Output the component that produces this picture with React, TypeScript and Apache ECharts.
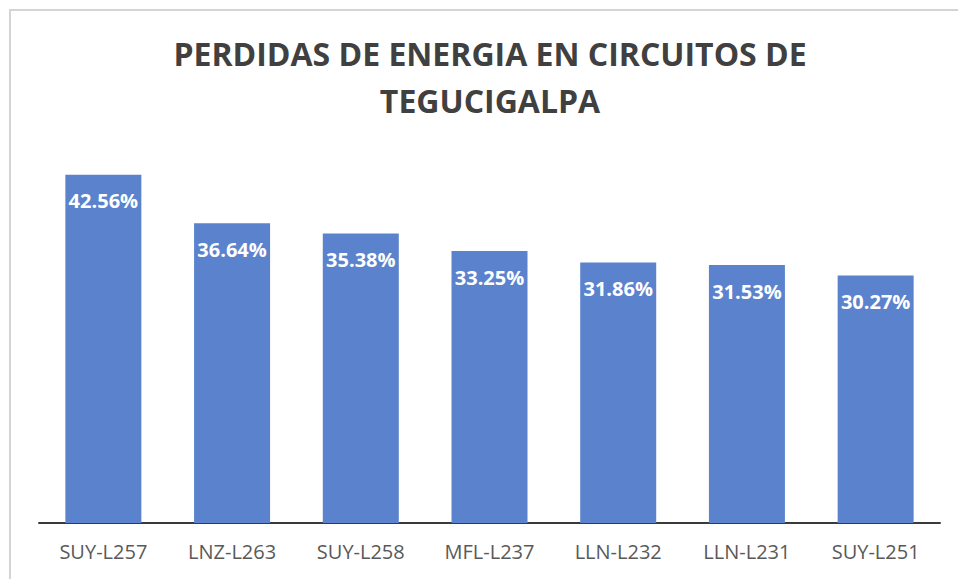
import React, { useEffect, useRef } from "react";
import * as echarts from "echarts";

const categories = ["SUY-L257", "LNZ-L263", "SUY-L258", "MFL-L237", "LLN-L232", "LLN-L231", "SUY-L251"];
const values = [42.56, 36.64, 35.38, 33.25, 31.86, 31.53, 30.27];
const titleLines = ["PERDIDAS DE ENERGIA EN CIRCUITOS DE", "TEGUCIGALPA"];

export default function App() {
  const ref = useRef<HTMLDivElement>(null);
  useEffect(() => {
    if (!ref.current) return;
    const chart = echarts.init(ref.current, null, { renderer: "svg" });
    chart.setOption({
      animation: false,
      backgroundColor: "#ffffff",
      textStyle: { fontFamily: "Open Sans" },
      graphic: [
        {
          type: "rect",
          shape: { x: 10, y: 10, width: 1000, height: 1000 },
          style: { fill: "none", stroke: "#d4d4d4", lineWidth: 2 },
          silent: true,
        },
        {
          type: "text",
          x: 490,
          y: 53,
          style: {
            text: titleLines[0],
            textAlign: "center",
            textVerticalAlign: "middle",
            fontFamily: "Open Sans",
            fontWeight: "bold",
            fontSize: 32,
            fill: "#404040",
          },
        },
        {
          type: "text",
          x: 490,
          y: 100,
          style: {
            text: titleLines[1],
            textAlign: "center",
            textVerticalAlign: "middle",
            fontFamily: "Open Sans",
            fontWeight: "bold",
            fontSize: 32,
            fill: "#404040",
          },
        },
      ],
      grid: { left: 39, right: 18, top: 114, bottom: 56, containLabel: false },
      xAxis: {
        type: "category",
        data: categories,
        axisLine: { lineStyle: { color: "#3a3a3a", width: 2 } },
        axisTick: { show: false },
        axisLabel: {
          color: "#595959",
          fontSize: 20,
          fontFamily: "Open Sans",
          margin: 18,
        },
      },
      yAxis: {
        type: "value",
        min: 0,
        max: 50,
        show: false,
        splitLine: { show: false },
      },
      series: [
        {
          type: "bar",
          data: values,
          barWidth: 76,
          itemStyle: { color: "#5b83cd" },
          label: {
            show: true,
            position: "insideTop",
            distance: 16,
            color: "#ffffff",
            fontWeight: "bold",
            fontSize: 20,
            fontFamily: "Open Sans",
            formatter: (p: any) => p.value.toFixed(2) + "%",
          },
        },
      ],
    });
    return () => chart.dispose();
  }, []);
  return (
    <div
      ref={ref}
      style={{ position: "fixed", left: 0, top: 0, width: 958, height: 579 }}
    />
  );
}
